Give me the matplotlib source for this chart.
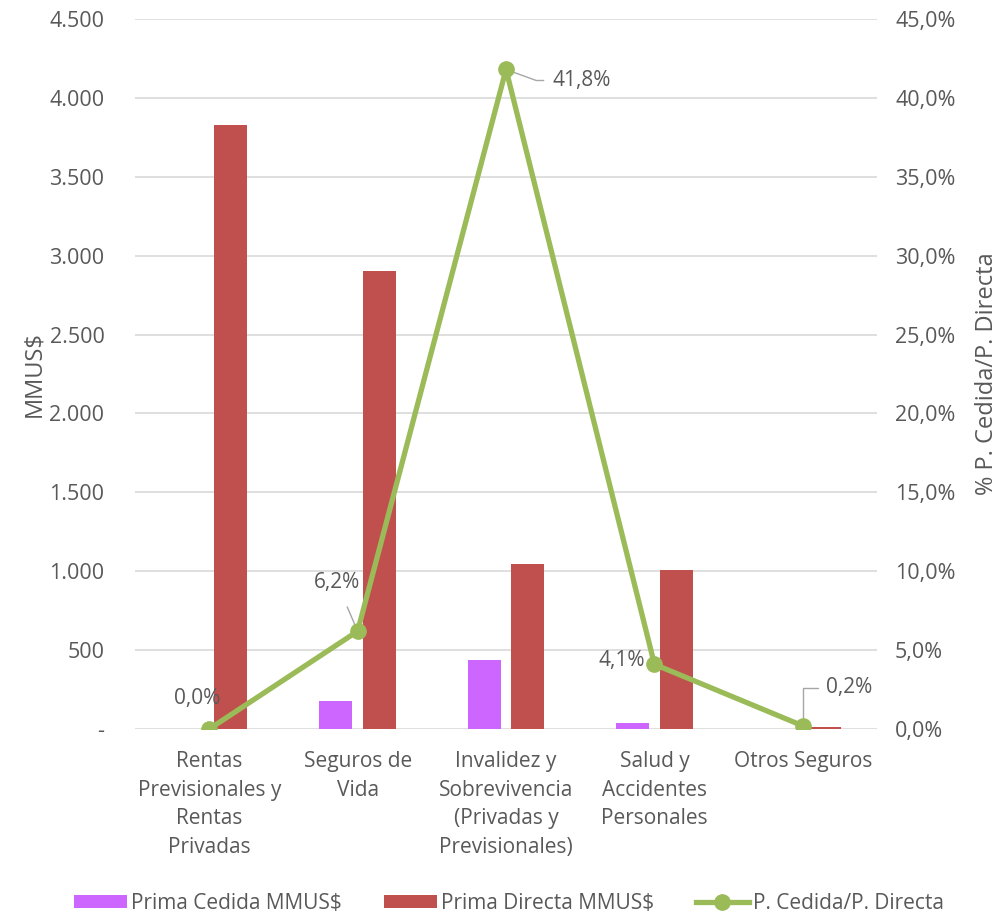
import matplotlib
matplotlib.use("Agg")
import matplotlib.pyplot as plt
import numpy as np
from matplotlib.ticker import FuncFormatter

plt.rcParams['font.family'] = ['Open Sans', 'DejaVu Sans']

categories = ["Rentas\nPrevisionales y\nRentas\nPrivadas", "Seguros de\nVida",
              "Invalidez y\nSobrevivencia\n(Privadas y\nPrevisionales)",
              "Salud y\nAccidentes\nPersonales", "Otros Seguros"]
prima_cedida = [0, 178, 438, 41, 0]
prima_directa = [3830, 2905, 1048, 1010, 14]
ratio = [0.0, 6.2, 41.8, 4.1, 0.2]
ratio_labels = ["0,0%", "6,2%", "41,8%", "4,1%", "0,2%"]

TXT = "#595959"
FS = 15
TFS = 15.5
AFS = 17
fig = plt.figure(figsize=(9.98, 9.14), dpi=100)
ax = fig.add_axes([0.1353, 0.2024, 0.7435, 0.7768])
x = np.arange(len(categories))
w = 0.222
off = 0.146
ax.bar(x - off, prima_cedida, w, color="#CC66FF", label="Prima Cedida MMUS$", zorder=2)
ax.bar(x + off, prima_directa, w, color="#C0504D", label="Prima Directa MMUS$", zorder=2)
ax.set_xlim(-0.5, len(categories) - 0.5)
ax.set_ylim(0, 4500)
ax.set_yticks(np.arange(0, 4501, 500))
ax.yaxis.set_major_formatter(FuncFormatter(lambda v, p: "-" if v == 0 else f"{int(v):,}".replace(",", ".")))
ax.grid(axis="y", color="#D9D9D9", linewidth=1.2, zorder=0)
ax.set_axisbelow(True)
for s in ax.spines.values():
    s.set_visible(False)
ax.tick_params(axis="both", length=0, colors=TXT, labelsize=TFS)
ax.tick_params(axis="y", pad=22)
ax.set_xticks(x)
ax.set_xticklabels(categories, linespacing=1.47, color=TXT, fontsize=FS)
ax.tick_params(axis="x", pad=16)
ax.set_ylabel("MMUS$", color=TXT, fontsize=AFS, labelpad=2)

ax2 = ax.twinx()
ax2.set_ylim(0, 45)
ax2.set_yticks(np.arange(0, 45.1, 5))
ax2.yaxis.set_major_formatter(FuncFormatter(lambda v, p: f"{v:.1f}%".replace(".", ",")))
for s in ax2.spines.values():
    s.set_visible(False)
ax2.tick_params(axis="y", length=0, colors=TXT, labelsize=TFS, pad=13)
ax2.set_ylabel("% P. Cedida/P. Directa", color=TXT, fontsize=AFS, labelpad=14)
ax2.plot(x, ratio, color="#9BBB59", linewidth=3.8, marker="o", markersize=11,
         label="P. Cedida/P. Directa", zorder=5)

lc = "#A6A6A6"
# 0,0%
ax2.annotate(ratio_labels[0], (x[0], ratio[0]), xytext=(-12, 31), textcoords="offset pixels",
             ha="center", va="center", color=TXT, fontsize=FS)
# 6,2%
ax2.annotate(ratio_labels[1], (x[1], ratio[1]), xytext=(-21, 49), textcoords="offset pixels",
             ha="center", va="center", color=TXT, fontsize=FS,
             arrowprops=dict(arrowstyle="-", color=lc, lw=1, shrinkA=9, shrinkB=0))
# 41,8%
ax2.annotate(ratio_labels[2], (x[2], ratio[2]), xytext=(46, -11), textcoords="offset pixels",
             ha="left", va="center", color=TXT, fontsize=FS,
             arrowprops=dict(arrowstyle="-", color=lc, lw=1, shrinkA=4, shrinkB=0,
                             connectionstyle="angle,angleA=0,angleB=-20,rad=0",
                             relpos=(0, 0.5)))
# 4,1%
ax2.annotate(ratio_labels[3], (x[3], ratio[3]), xytext=(-9, 4), textcoords="offset pixels",
             ha="right", va="center", color=TXT, fontsize=FS)
# 0,2%
ax2.annotate(ratio_labels[4], (x[4], ratio[4]), xytext=(23, 38), textcoords="offset pixels",
             ha="left", va="center", color=TXT, fontsize=FS,
             arrowprops=dict(arrowstyle="-", color=lc, lw=1, shrinkA=4, shrinkB=0,
                             connectionstyle="angle,angleA=0,angleB=90,rad=0",
                             relpos=(0, 0.5)))

h1, l1 = ax.get_legend_handles_labels()
h2, l2 = ax2.get_legend_handles_labels()
leg = fig.legend(h1 + h2, l1 + l2, loc="lower center", bbox_to_anchor=(0.51, -0.02), ncol=3,
                 frameon=False, fontsize=FS, handlelength=2.55, handleheight=0.6,
                 columnspacing=2.0, handletextpad=0.2)
for t in leg.get_texts():
    t.set_color(TXT)

fig.savefig("out.png", dpi=100)
